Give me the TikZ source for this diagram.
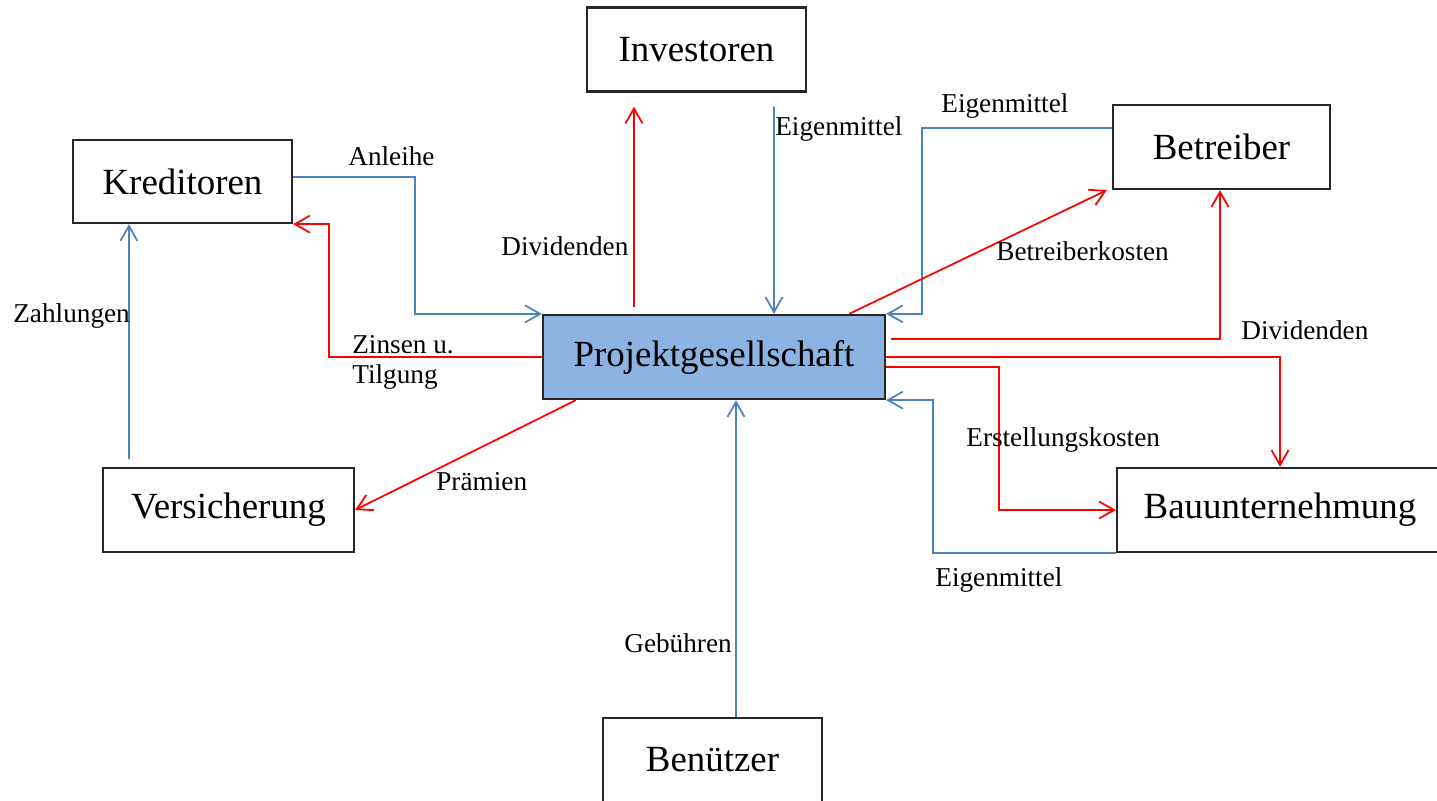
\documentclass[tikz,border=0pt]{standalone}
\usepackage{fontspec}
\setmainfont{Liberation Serif}
\usetikzlibrary{arrows.meta, positioning, calc}
\definecolor{flussblau}{RGB}{79,129,189}
\definecolor{flussrot}{RGB}{255,0,0}
\definecolor{kastenblau}{RGB}{141,179,226}

\begin{document}
\begin{tikzpicture}[x=0.02cm,y=-0.02cm,
  >={Straight Barb[length=3mm,width=3.4mm]},
  partei/.style={draw=black!85,line width=1.3pt,minimum height=1.68cm,inner sep=0pt,font=\fontsize{21}{25}\selectfont},
  geld/.style={->,line width=1pt,flussblau},
  kosten/.style={->,line width=1pt,flussrot},
  lbl/.style={anchor=base west,inner sep=0pt,font=\fontsize{15.5}{17}\selectfont}]
\useasboundingbox (0,0) rectangle (1437,801);

\node[partei,minimum width=4.38cm] (inv) at (696.5,49.5) {Investoren};
\node[partei,minimum width=4.38cm,minimum height=1.66cm] (kred) at (182.5,181.5) {Kreditoren};
\node[partei,minimum width=4.34cm] (betr) at (1221.5,147) {Betreiber};
\node[partei,minimum width=6.84cm,fill=kastenblau] (proj) at (714,357) {Projektgesellschaft};
\node[partei,minimum width=5.02cm] (vers) at (228.5,510) {Versicherung};
\node[partei,minimum width=6.52cm] (bau) at (1280,510) {Bauunternehmung};
\node[partei,minimum width=4.38cm] (benu) at (712.5,760) {Benützer};

\draw[geld] ($(kred.east)+(0,-4.5)$) -| ($(proj.north west)+(-127,0)$) -- (proj.north west);
\draw[kosten] (proj.west) -| ($(kred.south east)+(36,0)$) -- (kred.south east);
\draw[kosten] ($(proj.north)+(-80,-7)$) -- ($(inv.south)+(-62.5,14)$);
\draw[geld] ($(inv.south)+(77.5,14)$) -- ($(proj.north)+(60,0)$);
\draw[geld] ($(betr.west)+(0,-19)$) -| ($(proj.north east)+(36,0)$) -- (proj.north east);
\draw[kosten] ($(proj.north east)+(-37,0)$) -- ($(betr.south west)+(-5,0)$);
\draw[kosten] ($(proj.east)+(5,-18)$) -| ($(betr.south)+(-1.5,0)$);
\draw[kosten] (proj.east) -| (bau.north);
\draw[kosten] ($(proj.east)+(0,10)$) -| ($(bau.west)+(-117,0)$) -- (bau.west);
\draw[geld] (bau.south west) -| ($(proj.south east)+(47,0)$) -- (proj.south east);
\draw[kosten] ($(proj.south west)+(34,0)$) -- (vers.east);
\draw[geld] ($(vers.north west)+(27,-8)$) -- ($(kred.south west)+(57,0)$);
\draw[geld] ($(benu.north)+(23.5,0)$) -- ($(proj.south)+(22,0)$);

\node[lbl] (t-anleihe) at (348,165) {Anleihe};
\node[lbl,align=left] (t-zinsen) at (352,383) {Zinsen u.\\Tilgung};
\node[lbl] (t-divinv) at (501,255) {Dividenden};
\node[lbl] (t-eiginv) at (775,135) {Eigenmittel};
\node[lbl] (t-eigbetr) at (941,112) {Eigenmittel};
\node[lbl] (t-betrk) at (996,260) {Betreiberkosten};
\node[lbl] (t-divbetr) at (1241,339) {Dividenden};
\node[lbl] (t-erst) at (966,446) {Erstellungskosten};
\node[lbl] (t-eigbau) at (935,586) {Eigenmittel};
\node[lbl] (t-praem) at (436,490) {Prämien};
\node[lbl] (t-geb) at (624,652) {Gebühren};
\node[lbl] (t-zahl) at (13,322) {Zahlungen};
\end{tikzpicture}
\end{document}
